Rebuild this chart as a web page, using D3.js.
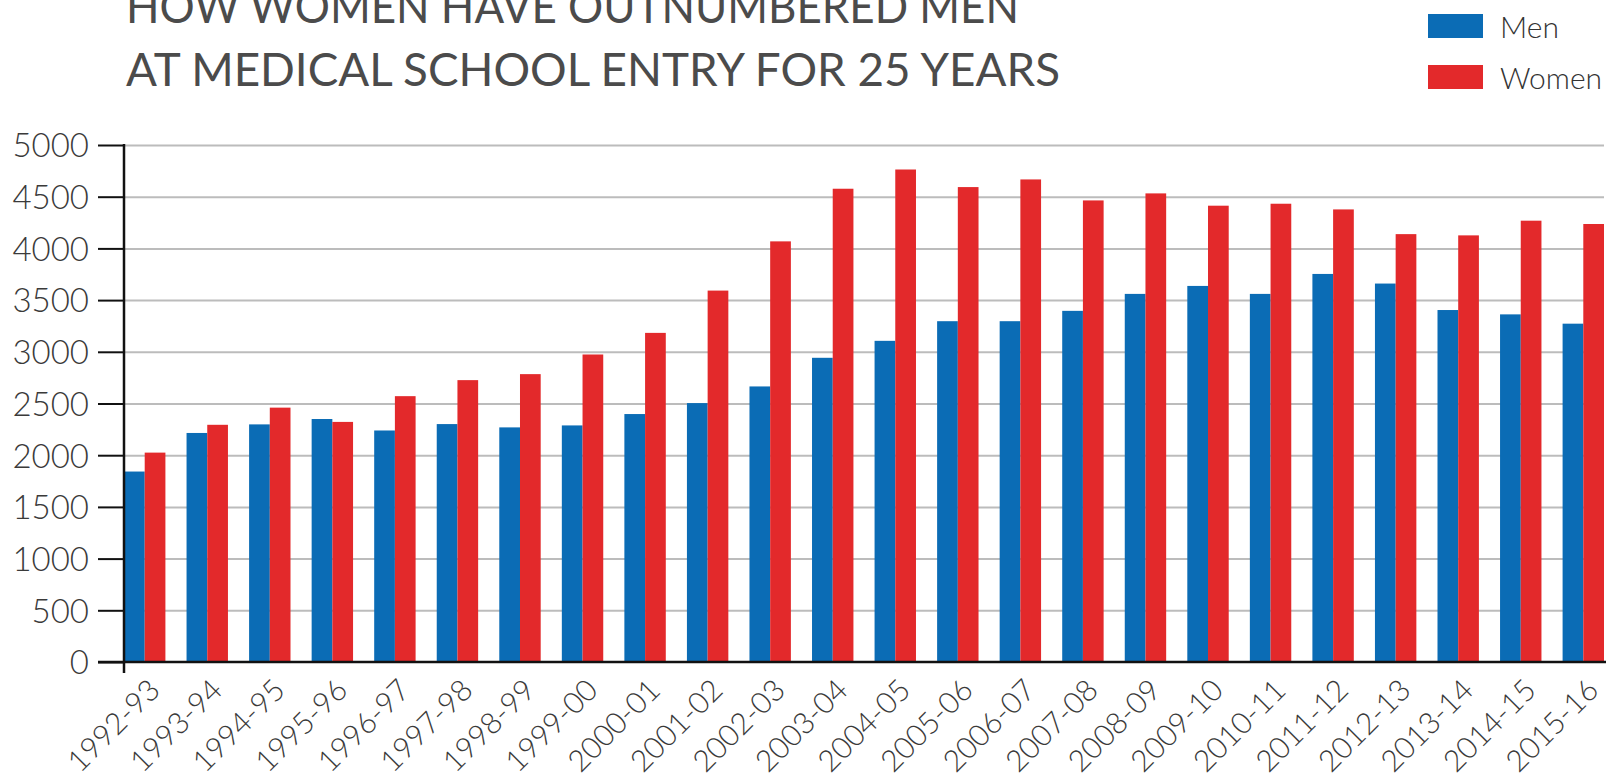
<!DOCTYPE html>
<html>
<head>
<meta charset="utf-8">
<script src="https://cdnjs.cloudflare.com/ajax/libs/d3/7.8.5/d3.min.js"></script>
<style>
  body { margin: 0; background: #fff; }
  svg { display: block; font-family: Lato, "Open Sans", sans-serif; }
  .title { fill: #4b4b4b; font-size: 47px; }
  .axis text { fill: #3a3a3a; font-family: Lato, "Open Sans", sans-serif; }
</style>
</head>
<body>
<svg id="chart" width="1614" height="779"></svg>
<script>
// years on the x axis
var years = ['1992-93', '1993-94', '1994-95', '1995-96', '1996-97', '1997-98',
  '1998-99', '1999-00', '2000-01', '2001-02', '2002-03', '2003-04', '2004-05',
  '2005-06', '2006-07', '2007-08', '2008-09', '2009-10', '2010-11', '2011-12',
  '2012-13', '2013-14', '2014-15', '2015-16'];

// entrants
var men = [1842, 2215, 2298, 2350, 2239, 2301, 2269, 2288, 2398, 2504, 2665, 2942,
  3106, 3296, 3296, 3396, 3560, 3637, 3560, 3753, 3660, 3404, 3362, 3272];
var women = [2025, 2294, 2460, 2322, 2571, 2726, 2784, 2974, 3183, 3592, 4068, 4577,
  4763, 4593, 4667, 4464, 4532, 4413, 4432, 4377, 4138, 4126, 4268, 4236];

var series = ['Men', 'Women'];
var yTicks = [0, 500, 1000, 1500, 2000, 2500, 3000, 3500, 4000, 4500, 5000];
var titleLines = ['HOW WOMEN HAVE OUTNUMBERED MEN', 'AT MEDICAL SCHOOL ENTRY FOR 25 YEARS'];

var colors = { Men: '#0b6cb5', Women: '#e3292b' };

var svg = d3.select('#chart');
// plot edges (top is taken by window.top, so use other names)
var plotLeft = 124, plotRight = 1604, plotTop = 145, plotBottom = 662;

// scales
var x = d3.scaleBand()
  .domain(years)
  .range([plotLeft, plotRight])
  .paddingInner(0.338)
  .paddingOuter(0);

var xInner = d3.scaleBand()
  .domain(series)
  .range([0, x.bandwidth()]);

var y = d3.scaleLinear()
  .domain([0, 5000])
  .range([plotBottom, plotTop]);

var rows = years.map(function(yr, i) {
  return { year: yr, Men: men[i], Women: women[i] };
});

// title
svg.selectAll('text.title')
  .data(titleLines)
  .enter()
  .append('text')
  .attr('class', 'title')
  .attr('x', 126)
  .attr('y', function(d, i) { return 23 + i * 63; })
  .attr('textLength', function(d, i) { return i === 0 ? 893 : 934; })
  .attr('lengthAdjust', 'spacingAndGlyphs')
  .text(function(d) { return d; });

// legend
var legend = svg.append('g').attr('class', 'legend');
legend.selectAll('rect')
  .data(series)
  .enter()
  .append('rect')
  .attr('x', 1428)
  .attr('y', function(d, i) { return 14 + i * 51; })
  .attr('width', 55)
  .attr('height', 24)
  .attr('fill', function(d) { return colors[d]; });
legend.selectAll('text')
  .data(series)
  .enter()
  .append('text')
  .attr('x', 1500)
  .attr('y', function(d, i) { return 38 + i * 51; })
  .style('font-size', '30px')
  .style('font-weight', 300)
  .style('fill', '#333')
  .text(function(d) { return d; });

// gridlines
svg.append('g')
  .attr('class', 'grid')
  .attr('transform', 'translate(' + plotLeft + ',0)')
  .call(d3.axisRight(y).tickValues(yTicks.slice(1)).tickSize(plotRight - plotLeft).tickFormat(''))
  .call(function(g) {
    g.select('.domain').remove();
    g.selectAll('line').attr('stroke', '#bcbcbc').attr('stroke-width', 2);
  });

// bars
svg.append('g')
  .selectAll('g')
  .data(rows)
  .enter()
  .append('g')
  .attr('transform', function(d) { return 'translate(' + x(d.year) + ',0)'; })
  .selectAll('rect')
  .data(function(d) {
    return series.map(function(s) { return { key: s, value: d[s] }; });
  })
  .enter()
  .append('rect')
  .attr('x', function(d) { return xInner(d.key); })
  .attr('y', function(d) { return y(d.value); })
  .attr('width', xInner.bandwidth())
  .attr('height', function(d) { return y(0) - y(d.value); })
  .attr('fill', function(d) { return colors[d.key]; });

// y axis
svg.append('g')
  .attr('class', 'axis')
  .attr('transform', 'translate(' + plotLeft + ',0)')
  .call(d3.axisLeft(y).tickValues(yTicks).tickSize(26).tickPadding(9).tickFormat(d3.format('d')))
  .call(function(g) {
    g.select('.domain').remove();
    g.selectAll('line').attr('stroke', '#111').attr('stroke-width', 2);
    g.selectAll('text').style('font-size', '33px').style('font-weight', 300).attr('dy', '0.36em');
  });

svg.append('line')
  .attr('x1', plotLeft).attr('x2', plotLeft)
  .attr('y1', plotTop - 1).attr('y2', plotBottom + 11)
  .attr('stroke', '#111')
  .attr('stroke-width', 2.5);

// x axis, labels slanted
svg.append('g')
  .attr('class', 'axis')
  .attr('transform', 'translate(0,' + plotBottom + ')')
  .call(d3.axisBottom(x).tickSize(0).tickPadding(0))
  .call(function(g) {
    g.select('.domain').remove();
    g.selectAll('text')
      .style('font-size', '30px')
      .style('font-weight', 300)
      .attr('text-anchor', 'end')
      .attr('dy', 0)
      .attr('y', 0)
      .attr('transform', 'translate(17,30) rotate(-45)');
  });

svg.append('line')
  .attr('x1', 98).attr('x2', plotRight + 2)
  .attr('y1', plotBottom).attr('y2', plotBottom)
  .attr('stroke', '#111')
  .attr('stroke-width', 2.5);
</script>
</body>
</html>
